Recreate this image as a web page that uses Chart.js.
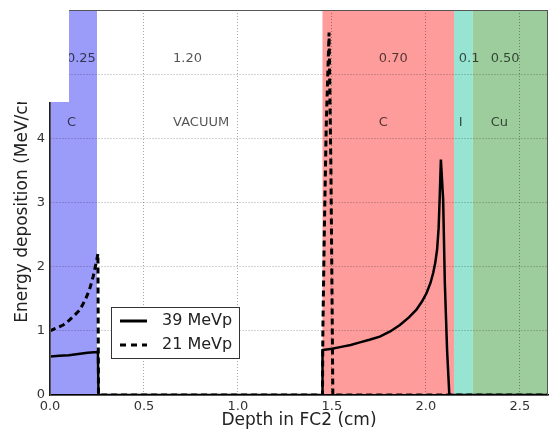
<!DOCTYPE html>
<html lang="en">
<head>
  <meta charset="UTF-8" />
  <title>Energy deposition in FC2</title>
  <script src="https://cdn.jsdelivr.net/npm/chart.js"></script>
  <style>
    html, body { margin: 0; padding: 0; background: #fff; }
    #wrap { width: 556px; height: 433px; position: relative; }
  </style>
</head>
<body>
  <div id="wrap"><canvas id="depthChart"></canvas></div>

  <script>
    // 39 MeVp (solid) - depth (cm) and deposition (MeV/cm)
    const depth39 = [0, 0.05, 0.10, 0.15, 0.20, 0.25, 0.255, 0.258, 1.449, 1.45, 1.50, 1.55, 1.60, 1.649, 1.70, 1.755,
      1.81, 1.862, 1.91, 1.95, 1.98, 2.004, 2.025, 2.039, 2.05, 2.06, 2.068, 2.074, 2.08, 2.092, 2.101, 2.113, 2.125, 2.65];
    const dose39 = [0.60, 0.61, 0.62, 0.64, 0.66, 0.67, 0.68, 0, 0, 0.70, 0.72, 0.75, 0.78, 0.82, 0.86, 0.91,
      0.99, 1.09, 1.21, 1.33, 1.46, 1.59, 1.75, 1.90, 2.06, 2.27, 2.6, 3.1, 3.67, 3.05, 1.75, 0.70, 0, 0];

    // 21 MeVp (dashed)
    const depth21 = [0, 0.03, 0.07, 0.10, 0.13, 0.16, 0.19, 0.21, 0.23, 0.245, 0.255, 0.258, 1.45, 1.452, 1.46, 1.47,
      1.485, 1.495, 1.50, 1.505, 2.65];
    const dose21 = [1.0, 1.04, 1.09, 1.16, 1.24, 1.33, 1.50, 1.64, 1.85, 2.05, 2.2, 0, 0, 1.0, 2.6, 4.2,
      5.65, 3.5, 1.8, 0, 0];

    const seriesNames = ["39 MeVp", "21 MeVp"];

    // layers: start, end (cm), colour, thickness label, material label
    const layerStart = [0, 0.25, 1.45, 2.15, 2.25];
    const layerEnd = [0.25, 1.45, 2.15, 2.25, 2.65];
    const layerColor = ["#9b9bfa", null, "#fe9c9c", "#98e4d2", "#9dcd9d"];
    const layerThick = ["0.25", "1.20", "0.70", "0.1", "0.50"];
    const layerName = ["C", "VACUUM", "C", "I", "Cu"];
    const labelX = [0.09, 0.655, 1.75, 2.175, 2.345];

    const xTicks = [0, 0.5, 1.0, 1.5, 2.0, 2.5];
    const yTicks = [0, 1, 2, 3, 4, 5, 6];

    function points(xs, ys) {
      return xs.map((x, i) => ({ x: x, y: ys[i] }));
    }

    const layersPlugin = {
      id: "layers",
      beforeDraw(chart) {
        const { ctx, chartArea: a, scales: { x } } = chart;
        ctx.save();
        layerStart.forEach((s, i) => {
          if (!layerColor[i]) return;
          const x0 = x.getPixelForValue(s);
          const x1 = Math.min(x.getPixelForValue(layerEnd[i]), a.right);
          ctx.fillStyle = layerColor[i];
          ctx.fillRect(x0, a.top, x1 - x0, a.bottom - a.top);
        });
        ctx.restore();
      },
      afterDatasetsDraw(chart) {
        const { ctx, scales: { x, y } } = chart;
        ctx.save();
        ctx.font = '13px "DejaVu Sans"';
        ctx.fillStyle = "rgba(0,0,0,0.68)";
        ctx.textAlign = "left";
        ctx.textBaseline = "middle";
        labelX.forEach((lx, i) => {
          const px = x.getPixelForValue(lx);
          ctx.fillText(layerThick[i], px, y.getPixelForValue(5.25));
          ctx.fillText(layerName[i], px, y.getPixelForValue(4.25));
        });
        ctx.restore();
      },
      afterDraw(chart) {
        const { ctx, chartArea: a } = chart;
        ctx.save();
        // frame
        ctx.strokeStyle = "#555";
        ctx.lineWidth = 1;
        ctx.strokeRect(a.left + 0.5, a.top + 0.5, a.right - a.left - 1, a.bottom - a.top);

        // legend box
        const lx = 111, ly = 307, lw = 128, lh = 51;
        ctx.fillStyle = "#fff";
        ctx.fillRect(lx, ly, lw, lh);
        ctx.strokeStyle = "#333";
        ctx.strokeRect(lx + 0.5, ly + 0.5, lw, lh);
        ctx.font = '16px "DejaVu Sans"';
        ctx.fillStyle = "#222";
        ctx.textBaseline = "middle";
        ctx.lineWidth = 3;
        ctx.strokeStyle = "#000";
        [321, 345].forEach((ry, i) => {
          ctx.setLineDash(i === 0 ? [] : [6, 5]);
          ctx.beginPath();
          ctx.moveTo(120, ry);
          ctx.lineTo(147, ry);
          ctx.stroke();
          ctx.fillText(seriesNames[i], 162, ry);
        });
        ctx.setLineDash([]);

        // the blank patch over the top-left corner of the original
        ctx.fillStyle = "#fff";
        ctx.fillRect(0, 0, 69, 102);
        ctx.restore();
      }
    };

    const grid = { color: "rgba(0,0,0,0.35)", drawTicks: false, borderDash: [1, 2] };

    new Chart(document.getElementById("depthChart"), {
      type: "line",
      data: {
        datasets: [
          {
            label: seriesNames[0],
            data: points(depth39, dose39),
            borderColor: "#000",
            borderWidth: 2.5,
            pointRadius: 0,
            tension: 0
          },
          {
            label: seriesNames[1],
            data: points(depth21, dose21),
            borderColor: "#000",
            borderWidth: 3,
            borderDash: [6, 4],
            pointRadius: 0,
            tension: 0
          }
        ]
      },
      options: {
        responsive: true,
        maintainAspectRatio: false,
        animation: false,
        layout: { padding: { top: 10, right: 8, left: 0, bottom: 0 } },
        plugins: {
          legend: { display: false },
          tooltip: { enabled: false }
        },
        scales: {
          x: {
            type: "linear",
            min: 0,
            max: 2.65,
            afterFit(scale) { scale.height = 38; },
            afterBuildTicks(scale) { scale.ticks = xTicks.map(v => ({ value: v })); },
            ticks: {
              color: "#333",
              padding: 4,
              font: { family: "DejaVu Sans", size: 13 },
              callback: v => v.toFixed(1)
            },
            grid: grid,
            border: { display: true, color: "#000", width: 1.5, dash: [1, 2] },
            title: {
              display: true,
              text: "Depth in FC2 (cm)",
              color: "#222",
              font: { family: "DejaVu Sans", size: 17 },
              padding: { top: 0, bottom: 2 }
            }
          },
          y: {
            min: 0,
            max: 6,
            afterFit(scale) {
              scale.width = 50;
              scale.paddingTop = 0;
              scale.paddingBottom = 0;
            },
            afterBuildTicks(scale) { scale.ticks = yTicks.map(v => ({ value: v })); },
            ticks: {
              color: "#333",
              padding: 5,
              font: { family: "DejaVu Sans", size: 13 }
            },
            grid: grid,
            border: { display: true, color: "#222", width: 1.5, dash: [1, 2] },
            title: {
              display: true,
              text: "Energy deposition (MeV/cm)",
              color: "#222",
              font: { family: "DejaVu Sans", size: 17 },
              padding: { top: 12, bottom: 0 }
            }
          }
        }
      },
      plugins: [layersPlugin]
    });
  </script>
</body>
</html>
